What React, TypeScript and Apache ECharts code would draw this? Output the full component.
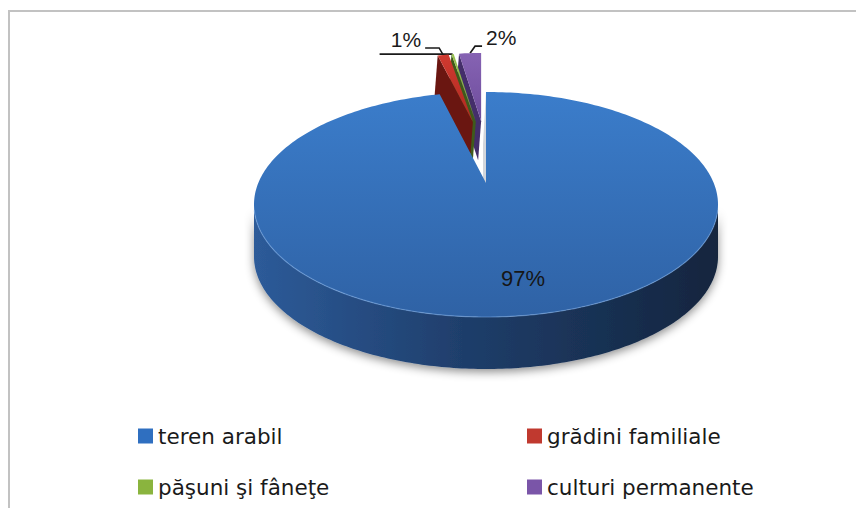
import React, { useEffect, useRef } from 'react';
import * as echarts from 'echarts';

// ---------------- data ----------------
const categories = ['teren arabil', 'grădini familiale', 'păşuni şi fâneţe', 'culturi permanente'];
const values = [96.8, 1.0, 0.2, 2.0];
const explodedSlices = [false, true, true, true];
const showLabel = [true, true, false, true];

// ---------------- styles ----------------
const topColors = [
  ['#3b7dcb', '#2f62a5'],
  ['#cf3a30', '#b02820'],
  ['#96c24e', '#7ea53c'],
  ['#8663b3', '#6d4c9c'],
];
const radialWallColors = ['#d3d6db', '#6a1611', '#3f5a1b', '#442e6a'];
const legendColors = ['#2f6fc0', '#c0392f', '#8ab43e', '#7a55a8'];
const leaderStyle = [
  null,
  { side: -1, rise: 7, bend: 4, run: 14 },
  { side: -1, rise: 0, bend: 0, run: 73 },
  { side: 1, rise: 7, bend: 5, run: 7 },
];
const seriesZ = [5, 4, 3, 2];

// geometry of the 3D pie
const CX = 486;
const CY = 204.5;
const RX = 232;
const RY = 112.5;
const APEX_Y = 183;
const DEPTH = 52;
const EXPLODE = 0.55;
const EXP_SX = 0.76;
const EXP_SY = 0.75;
const WALL_SKEW = -3;
const FONT = '"Liberation Sans", Arial, Helvetica, sans-serif';
const LEGEND_FONT = '"DejaVu Sans", Verdana, sans-serif';

const total = values.reduce((a, b) => a + b, 0);
const startAngles: number[] = [];
const endAngles: number[] = [];
{
  let acc = 0;
  values.forEach((v) => {
    startAngles.push((acc / total) * 360);
    acc += v;
    endAngles.push((acc / total) * 360);
  });
}
const percentLabels = values.map((v) => Math.round((v / total) * 100) + '%');

const rad = (d: number) => (d * Math.PI) / 180;
const rimPoint = (deg: number): number[] => [CX + RX * Math.sin(rad(deg)), CY - RY * Math.cos(rad(deg))];

function makeRender(i: number) {
  return (params: any, api: any) => {
    const a1 = api.value(0);
    const a2 = api.value(1);
    const mid = (a1 + a2) / 2;
    const ex = explodedSlices[i];
    const tf = (p: number[]): number[] => {
      if (!ex) return p;
      return [
        CX + EXP_SX * (p[0] - CX) + EXPLODE * RX * EXP_SX * 0.8 * Math.sin(rad(mid)),
        APEX_Y + EXP_SY * (p[1] - APEX_Y) - EXPLODE * RY * Math.cos(rad(mid)),
      ];
    };
    const depth = ex ? DEPTH * EXP_SY : DEPTH;
    const down = (p: number[], skew = 0): number[] => [p[0] + skew, p[1] + depth];
    const arcPts = (b1: number, b2: number): number[][] => {
      const n = Math.max(2, Math.ceil((b2 - b1) / 1));
      const pts: number[][] = [];
      for (let k = 0; k <= n; k++) pts.push(tf(rimPoint(b1 + ((b2 - b1) * k) / n)));
      return pts;
    };
    const apex = tf([CX, APEX_Y]);
    const children: any[] = [];

    // leader line + label (drawn first so the slices cover its end)
    const ls = leaderStyle[i];
    if (ls) {
      const p0 = tf(rimPoint(mid));
      const p1 = [p0[0] + ls.side * ls.bend, p0[1] - ls.rise];
      const p2 = [p1[0] + ls.side * ls.run, p1[1]];
      children.push({
        type: 'polyline',
        silent: true,
        z2: 1,
        shape: { points: [p0, p1, p2] },
        style: { stroke: '#1a1a1a', lineWidth: 1.6, fill: 'none' },
      });
      if (showLabel[i]) {
        children.push({
          type: 'text',
          silent: true,
          z2: 1,
          x: p2[0] + ls.side * 4,
          y: p2[1] + 2,
          style: {
            text: percentLabels[i],
            fill: '#1a1a1a',
            fontSize: 21,
            fontFamily: FONT,
            align: ls.side < 0 ? 'right' : 'left',
            verticalAlign: 'bottom',
          },
        });
      }
    }

    // outer (front) wall
    const w1 = Math.max(a1, 90);
    const w2 = Math.min(a2, 270);
    if (w2 > w1) {
      const topArc = arcPts(w1, w2);
      const botArc = topArc.map((p) => down(p)).reverse();
      children.push({
        type: 'polygon',
        silent: true,
        z2: 2,
        shape: { points: topArc.concat(botArc) },
        style: {
          fill: new echarts.graphic.LinearGradient(0, 0, 1, 0, [
            { offset: 0, color: '#2d5b99' },
            { offset: 0.45, color: '#1f3e6b' },
            { offset: 1, color: '#13253e' },
          ]),
          shadowBlur: 10,
          shadowColor: 'rgba(0,0,0,0.45)',
          shadowOffsetY: 3,
        },
      });
    }

    // radial walls facing the viewer
    const rimA = tf(rimPoint(a1));
    if (-Math.sin(rad(a1)) >= -1e-9) {
      children.push({
        type: 'polygon',
        silent: true,
        z2: 2,
        shape: { points: [apex, rimA, down(rimA, WALL_SKEW), down(apex, WALL_SKEW)] },
        style: { fill: radialWallColors[i] },
      });
    }
    const rimB = tf(rimPoint(a2));
    if (Math.sin(rad(a2)) > 1e-9) {
      children.push({
        type: 'polygon',
        silent: true,
        z2: 2,
        shape: { points: [apex, rimB, down(rimB), down(apex)] },
        style: { fill: radialWallColors[i] },
      });
    }

    // top face
    const topPts = [apex].concat(arcPts(a1, a2));
    children.push({
      type: 'polygon',
      silent: true,
      z2: 3,
      shape: { points: topPts },
      style: {
        fill: new echarts.graphic.LinearGradient(0, 0, 0, 1, [
          { offset: 0, color: topColors[i][0] },
          { offset: 1, color: topColors[i][1] },
        ]),
      },
    });

    // subtle highlight along the front rim
    if (w2 > w1) {
      children.push({
        type: 'polyline',
        silent: true,
        z2: 4,
        shape: { points: arcPts(w1 + 3, w2 - 3) },
        style: { stroke: 'rgba(120,170,230,0.55)', lineWidth: 1.2, fill: 'none' },
      });
    }

    // big slice label inside the top face
    if (!ex && showLabel[i]) {
      children.push({
        type: 'text',
        silent: true,
        z2: 5,
        x: CX + 0.16 * RX,
        y: CY + 0.66 * RY,
        style: {
          text: percentLabels[i],
          fill: '#161616',
          fontSize: 22,
          fontFamily: FONT,
          align: 'center',
          verticalAlign: 'middle',
        },
      });
    }
    return { type: 'group', children };
  };
}

export default function App() {
  const ref = useRef<HTMLDivElement>(null);
  useEffect(() => {
    if (!ref.current) return;
    const chart = echarts.init(ref.current, undefined, { renderer: 'svg' });
    const legendText = { fontSize: 21.5, lineHeight: 22, fontFamily: LEGEND_FONT, color: '#1a1a1a' };
    const legendBase = {
      orient: 'vertical',
      top: 425,
      padding: 0,
      itemWidth: 15,
      itemHeight: 15,
      itemGap: 29,
      icon: 'rect',
      selectedMode: false,
      textStyle: legendText,
    };
    chart.setOption({
      animation: false,
      backgroundColor: '#ffffff',
      graphic: [
        {
          type: 'rect',
          x: 9,
          y: 11,
          silent: true,
          shape: { x: 0, y: 0, width: 900, height: 600 },
          style: { fill: 'none', stroke: '#c2c2c2', lineWidth: 2 },
        },
      ],
      legend: [
        { ...legendBase, left: 138, data: [categories[0], categories[2]] },
        { ...legendBase, left: 527, data: [categories[1], categories[3]] },
      ],
      series: categories.map((name, i) => ({
        type: 'custom',
        name,
        coordinateSystem: 'none',
        z: seriesZ[i],
        silent: true,
        itemStyle: { color: legendColors[i] },
        data: [[startAngles[i], endAngles[i], values[i]]],
        renderItem: makeRender(i),
      })),
    });
    return () => chart.dispose();
  }, []);
  return (
    <div
      ref={ref}
      style={{ position: 'absolute', left: 0, top: 0, width: 856, height: 508 }}
    />
  );
}
